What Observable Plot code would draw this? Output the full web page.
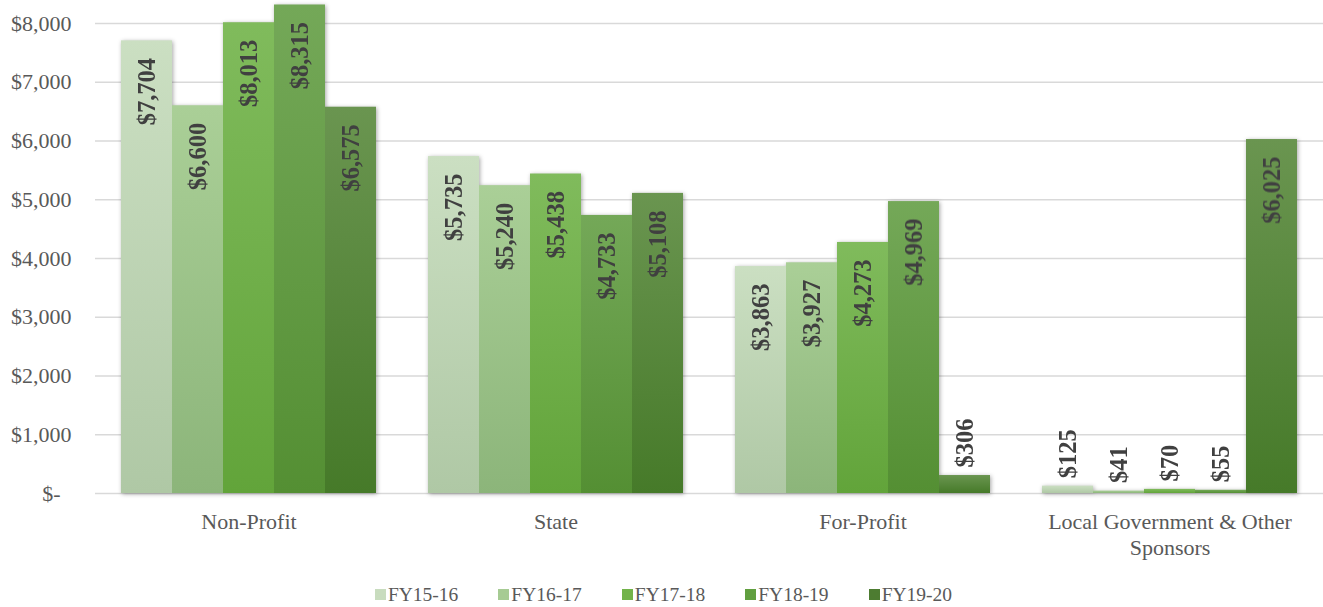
<!DOCTYPE html>
<html>
<head>
<meta charset="utf-8">
<script src="https://cdn.jsdelivr.net/npm/d3@7"></script>
<script src="https://cdn.jsdelivr.net/npm/@observablehq/plot@0.6"></script>
<style>
  html, body { margin: 0; padding: 0; background: #fff; }
  #chart { width: 1323px; }
  #chart svg g[aria-label="bar"] { filter: drop-shadow(1px 1px 2px rgba(0,0,0,0.35)); }
  #legend { display: flex; justify-content: center; align-items: center; height: 47px; box-sizing: border-box; padding-top: 22px; padding-left: 4px;
    font-family: "Liberation Serif", "Times New Roman", serif; font-size: 19.5px; color: #595959; line-height: 22px; }
  .item { display: flex; align-items: center; margin: 0 20px; }
  .sw { width: 11px; height: 11px; margin-right: 2px; }
</style>
</head>
<body>
<div id="chart"></div>
<div id="legend"></div>
<script>
const categories = ["Non-Profit", "State", "For-Profit", "Local Government & Other Sponsors"];
const years = ["FY15-16", "FY16-17", "FY17-18", "FY18-19", "FY19-20"];
const fy1516 = [7704, 5735, 3863, 125];
const fy1617 = [6600, 5240, 3927, 41];
const fy1718 = [8013, 5438, 4273, 70];
const fy1819 = [8315, 4733, 4969, 55];
const fy1920 = [6575, 5108, 306, 6025];
const yTicks = [0, 1000, 2000, 3000, 4000, 5000, 6000, 7000, 8000];
const topColors = ["#cbdfc2", "#aacf97", "#80bb5c", "#74a858", "#6a9550"];
const bottomColors = ["#afc8a5", "#8cb57a", "#62a43a", "#548f33", "#467a29"];
const swatchColors = ["#c8dcbe", "#a6cb93", "#72b34a", "#619f3f", "#4d7c31"];

const series = [fy1516, fy1617, fy1718, fy1819, fy1920];
const data = categories.flatMap((c, i) => years.map((y, j) => ({category: c, year: y, value: series[j][i]})));
const fmt = v => "$" + d3.format(",")(v);

const chart = Plot.plot({
  width: 1323,
  height: 560,
  marginLeft: 95,
  marginRight: 0,
  marginTop: 23,
  marginBottom: 67,
  style: {fontFamily: "'Liberation Serif', 'Times New Roman', serif", background: "white", overflow: "visible"},
  fx: {domain: categories, padding: 0, label: null, axis: null},
  x: {domain: years, paddingInner: 0, paddingOuter: 0.5, axis: null},
  y: {domain: [0, 8000], label: null, axis: null},
  color: {domain: years, range: years.map((d, i) => `url(#grad${i})`)},
  marks: [
    Plot.ruleY(yTicks, {stroke: "#d9d9d9", strokeWidth: 1.5}),
    Plot.barY(data, {fx: "category", x: "year", y: "value", fill: "year"}),
    Plot.text(data.filter(d => d.value >= 1000), {
      fx: "category", x: "year", y: "value", text: d => fmt(d.value),
      rotate: -90, textAnchor: "end", lineAnchor: "middle", dy: 17,
      fontSize: 24.5, fontWeight: "bold", fill: "#404040"
    }),
    Plot.text(data.filter(d => d.value < 1000), {
      fx: "category", x: "year", y: "value", text: d => fmt(d.value),
      rotate: -90, textAnchor: "start", lineAnchor: "middle", dy: -8,
      fontSize: 24.5, fontWeight: "bold", fill: "#404040"
    }),
    Plot.axisY(yTicks, {
      tickSize: 0, tickPadding: 24, fontSize: 22, fill: "#595959", label: null,
      tickFormat: d => d === 0 ? "$-\u00a0\u00a0" : fmt(d)
    }),
    Plot.axisFx({
      anchor: "bottom", tickSize: 0, tickPadding: 17, fontSize: 22, fill: "#595959", label: null, lineHeight: 1.18,
      tickFormat: d => d.startsWith("Local") ? "Local Government & Other\nSponsors" : d
    })
  ]
});

// gradient definitions for the bar fills
const ns = "http://www.w3.org/2000/svg";
const defs = document.createElementNS(ns, "defs");
years.forEach((y, i) => {
  const g = document.createElementNS(ns, "linearGradient");
  g.setAttribute("id", `grad${i}`);
  g.setAttribute("x1", "0"); g.setAttribute("y1", "0");
  g.setAttribute("x2", "0"); g.setAttribute("y2", "1");
  [[0, topColors[i]], [1, bottomColors[i]]].forEach(([o, c]) => {
    const s = document.createElementNS(ns, "stop");
    s.setAttribute("offset", o);
    s.setAttribute("stop-color", c);
    g.appendChild(s);
  });
  defs.appendChild(g);
});
chart.insertBefore(defs, chart.firstChild);
document.getElementById("chart").appendChild(chart);

const legend = document.getElementById("legend");
years.forEach((y, i) => {
  const item = document.createElement("div");
  item.className = "item";
  const sw = document.createElement("div");
  sw.className = "sw";
  sw.style.background = swatchColors[i];
  const t = document.createElement("span");
  t.textContent = y;
  item.appendChild(sw);
  item.appendChild(t);
  legend.appendChild(item);
});
</script>
</body>
</html>
